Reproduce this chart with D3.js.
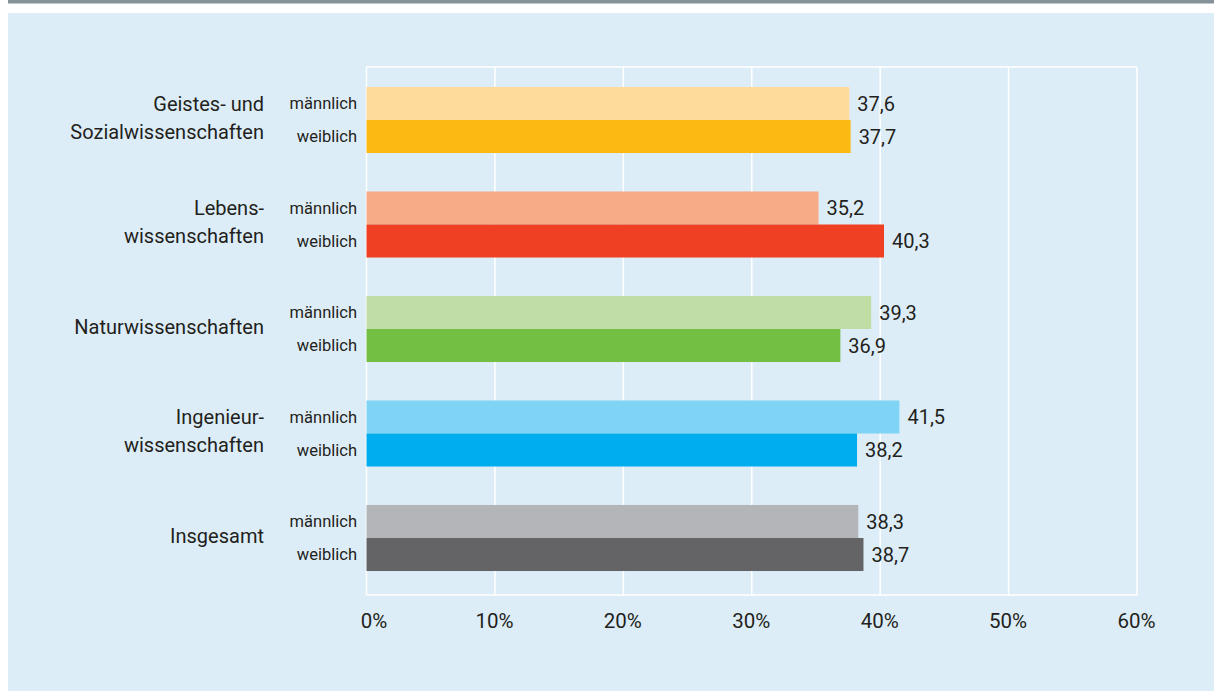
<!DOCTYPE html>
<html>
<head>
<meta charset="utf-8">
<script src="https://cdn.jsdelivr.net/npm/d3@7"></script>
<style>
  html, body { margin: 0; padding: 0; background: #ffffff; }
  svg { display: block; font-family: Roboto, "Open Sans", sans-serif; }
</style>
</head>
<body>
<svg id="chart" width="1214" height="691"></svg>
<script>
// Fachbereiche (Zeilen der Grafik), ggf. mehrzeilige Beschriftung
const categories = ["Geistes- und Sozialwissenschaften", "Lebenswissenschaften", "Naturwissenschaften", "Ingenieurwissenschaften", "Insgesamt"];
const categoryLines = [
  ["Geistes- und", "Sozialwissenschaften"],
  ["Lebens-", "wissenschaften"],
  ["Naturwissenschaften"],
  ["Ingenieur-", "wissenschaften"],
  ["Insgesamt"]
];
const genders = ["männlich", "weiblich"];
const maleValues = [37.6, 35.2, 39.3, 41.5, 38.3];
const femaleValues = [37.7, 40.3, 36.9, 38.2, 38.7];
const maleColors = ["#fedb9a", "#f8ab87", "#c0dda5", "#7fd3f5", "#b4b5b8"];
const femaleColors = ["#fdb913", "#f04023", "#72bf44", "#00aeef", "#646466"];
const tickValues = [0, 10, 20, 30, 40, 50, 60];

const svg = d3.select("#chart");
const W = 1214, H = 691;

// Rahmen: grauer Balken oben, hellblaue Fläche
svg.append("rect").attr("x", 8).attr("y", 0).attr("width", W - 8).attr("height", 3.5).attr("fill", "#86929a");
svg.append("rect").attr("x", 8).attr("y", 13).attr("width", W - 8).attr("height", H - 13).attr("fill", "#ddedf7");

const plot = { left: 366.5, right: 1137, top: 67, bottom: 595 };

const x = d3.scaleLinear().domain([0, 60]).range([plot.left, plot.right]);
const y = d3.scaleBand().domain(categories).range([67.75, 590.25]).paddingInner(0.368).paddingOuter(0.184);
const ySub = d3.scaleBand().domain(genders).range([0, y.bandwidth()]);

// Gitternetz
const grid = svg.append("g");
grid.selectAll("line.v").data(tickValues).join("line")
  .attr("x1", d => x(d)).attr("x2", d => x(d))
  .attr("y1", plot.top).attr("y2", plot.bottom)
  .attr("stroke", "#ffffff").attr("stroke-width", 1.5);
grid.append("line").attr("x1", plot.left).attr("x2", plot.right).attr("y1", plot.top).attr("y2", plot.top)
  .attr("stroke", "#ffffff").attr("stroke-width", 1.5);
grid.append("line").attr("x1", plot.left).attr("x2", plot.right).attr("y1", plot.bottom).attr("y2", plot.bottom)
  .attr("stroke", "#ffffff").attr("stroke-width", 1.5);

// Daten je Balken
const rows = [];
categories.forEach((c, i) => {
  rows.push({ cat: c, g: "männlich", v: maleValues[i], color: maleColors[i] });
  rows.push({ cat: c, g: "weiblich", v: femaleValues[i], color: femaleColors[i] });
});

const deLocale = d3.formatLocale({ decimal: ",", thousands: ".", grouping: [3], currency: ["", " €"] });
const fmt = deLocale.format(".1f");

const bars = svg.append("g");
bars.selectAll("rect").data(rows).join("rect")
  .attr("x", x(0))
  .attr("y", d => y(d.cat) + ySub(d.g))
  .attr("width", d => x(d.v) - x(0))
  .attr("height", ySub.bandwidth())
  .attr("fill", d => d.color);

// Wertbeschriftungen
svg.append("g").selectAll("text").data(rows).join("text")
  .attr("x", d => x(d.v) + 8)
  .attr("y", d => y(d.cat) + ySub(d.g) + ySub.bandwidth() / 2)
  .attr("dy", "0.36em")
  .attr("font-size", 20)
  .attr("fill", "#231f20")
  .text(d => fmt(d.v));

// Geschlechtsbeschriftungen
svg.append("g").selectAll("text").data(rows).join("text")
  .attr("x", 357)
  .attr("y", d => y(d.cat) + ySub(d.g) + ySub.bandwidth() / 2)
  .attr("dy", "0.36em")
  .attr("text-anchor", "end")
  .attr("font-size", 16.5)
  .attr("fill", "#231f20")
  .text(d => d.g);

// Fachbereichsbeschriftungen
const catG = svg.append("g");
categories.forEach((c, i) => {
  const lines = categoryLines[i];
  const cy = y(c) + y.bandwidth() / 2;
  const lh = 28;
  const t = catG.append("text")
    .attr("text-anchor", "end")
    .attr("font-size", 20)
    .attr("fill", "#231f20");
  lines.forEach((l, k) => {
    t.append("tspan")
      .attr("x", 264)
      .attr("y", cy + (k - (lines.length - 1) / 2) * lh)
      .attr("dy", "0.24em")
      .text(l);
  });
});

// x-Achse
const xAxis = d3.axisBottom(x).tickValues(tickValues).tickFormat(d => d + "%").tickSize(0).tickPadding(0);
const ax = svg.append("g").attr("transform", `translate(0, ${plot.bottom})`).call(xAxis);
ax.select(".domain").remove();
ax.selectAll("text")
  .attr("y", 33)
  .attr("dy", 0)
  .attr("dx", d => d === 0 ? 7 : -1)
  .attr("font-size", 20.5)
  .attr("font-family", "Roboto, 'Open Sans', sans-serif")
  .attr("fill", "#231f20");
</script>
</body>
</html>
